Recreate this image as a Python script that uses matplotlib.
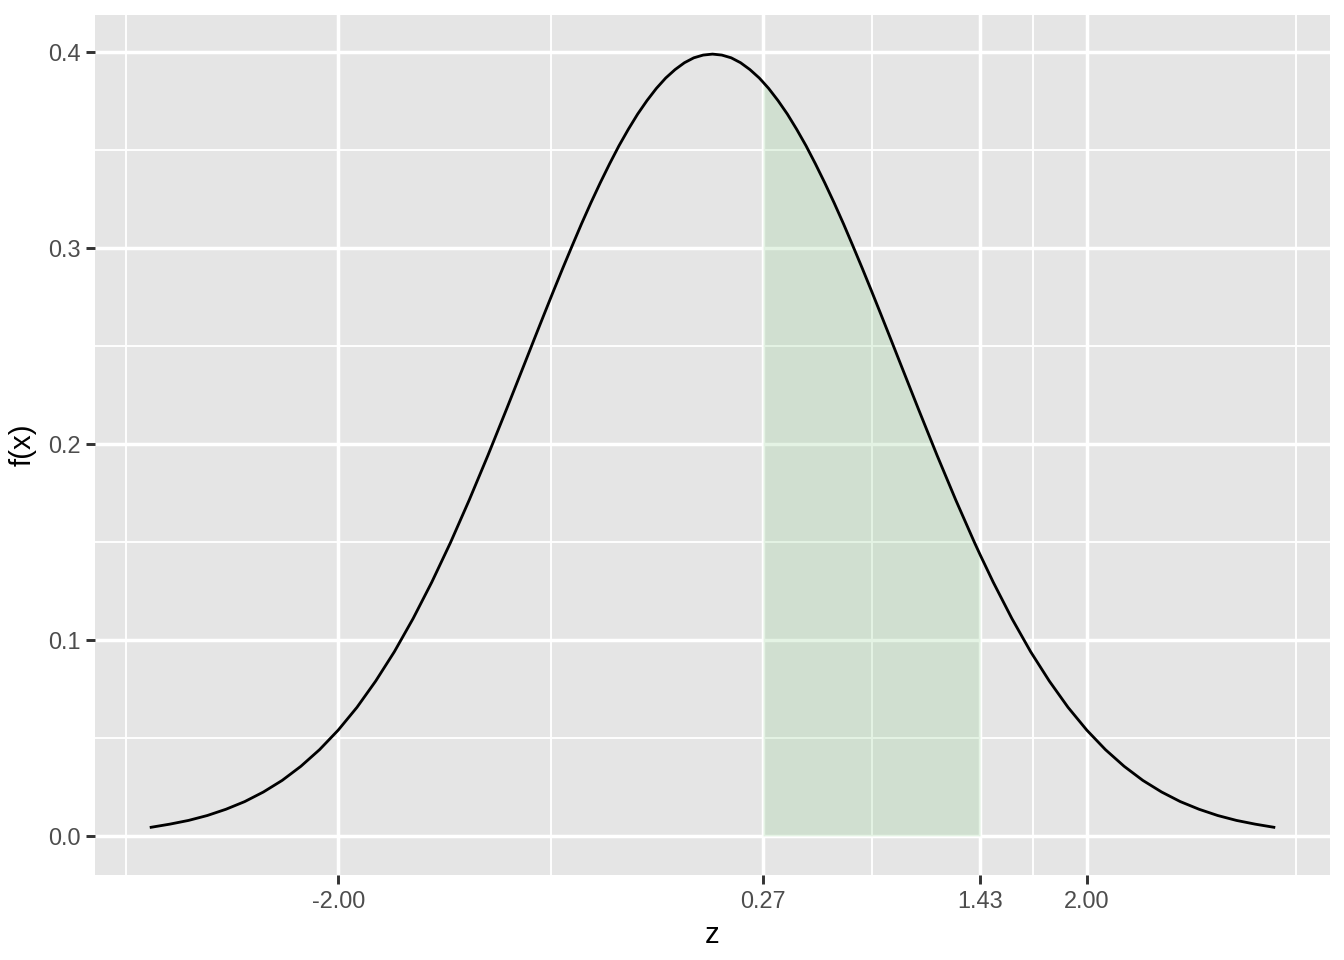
import matplotlib
matplotlib.use("Agg")
import matplotlib.pyplot as plt
import numpy as np

plt.rcParams['font.family'] = ['Liberation Sans', 'DejaVu Sans']

# density curve
z = [-3.0, -2.9, -2.8, -2.7, -2.6, -2.5, -2.4, -2.3, -2.2, -2.1,
     -2.0, -1.9, -1.8, -1.7, -1.6, -1.5, -1.4, -1.3, -1.2, -1.1,
     -1.0, -0.95, -0.9, -0.85, -0.8, -0.75, -0.7, -0.65, -0.6, -0.55,
     -0.5, -0.45, -0.4, -0.35, -0.3, -0.25, -0.2, -0.15, -0.1, -0.05,
     0.0,
     0.05, 0.1, 0.15, 0.2, 0.25, 0.27, 0.3, 0.35, 0.4, 0.45,
     0.5, 0.55, 0.6, 0.65, 0.7, 0.75, 0.8, 0.85, 0.9, 0.95, 1.0,
     1.1, 1.2, 1.3, 1.4, 1.43, 1.5, 1.6, 1.7, 1.8, 1.9,
     2.0, 2.1, 2.2, 2.3, 2.4, 2.5, 2.6, 2.7, 2.8, 2.9, 3.0]
fx = [0.0044, 0.0060, 0.0079, 0.0104, 0.0136, 0.0175, 0.0224, 0.0283, 0.0355, 0.0440,
      0.0540, 0.0656, 0.0790, 0.0940, 0.1109, 0.1295, 0.1497, 0.1714, 0.1942, 0.2179,
      0.2420, 0.2541, 0.2661, 0.2780, 0.2897, 0.3011, 0.3123, 0.3230, 0.3332, 0.3429,
      0.3521, 0.3605, 0.3683, 0.3752, 0.3814, 0.3867, 0.3910, 0.3945, 0.3970, 0.3984,
      0.3989,
      0.3984, 0.3970, 0.3945, 0.3910, 0.3867, 0.3846, 0.3814, 0.3752, 0.3683, 0.3605,
      0.3521, 0.3429, 0.3332, 0.3230, 0.3123, 0.3011, 0.2897, 0.2780, 0.2661, 0.2541, 0.2420,
      0.2179, 0.1942, 0.1714, 0.1497, 0.1435, 0.1295, 0.1109, 0.0940, 0.0790, 0.0656,
      0.0540, 0.0440, 0.0355, 0.0283, 0.0224, 0.0175, 0.0136, 0.0104, 0.0079, 0.0060, 0.0044]
shade_lo, shade_hi = 0.27, 1.43

x_breaks = [-2.0, 0.27, 1.43, 2.0]
x_labels = ["-2.00", "0.27", "1.43", "2.00"]
x_minor = [-3.135, -0.865, 0.85, 1.715, 3.12]
y_breaks = [0.0, 0.1, 0.2, 0.3, 0.4]
y_labels = ["0.0", "0.1", "0.2", "0.3", "0.4"]
y_minor = [0.05, 0.15, 0.25, 0.35]

z = np.array(z)
fx = np.array(fx)

fig = plt.figure(figsize=(7, 5), dpi=192)
ax = fig.add_axes([95 / 1344, 85 / 960, 1235 / 1344, 860 / 960])
ax.set_facecolor("#e5e5e5")
for s in ax.spines.values():
    s.set_visible(False)

for v in x_minor:
    ax.axvline(v, color="white", lw=0.7, zorder=1)
for v in y_minor:
    ax.axhline(v, color="white", lw=0.7, zorder=1)
for v in x_breaks:
    ax.axvline(v, color="white", lw=1.3, zorder=1)
for v in y_breaks:
    ax.axhline(v, color="white", lw=1.3, zorder=1)

mask = (z >= shade_lo) & (z <= shade_hi)
ax.fill_between(z[mask], 0, fx[mask], color="#7cc77c", alpha=0.2, lw=0, zorder=2)
ax.plot(z, fx, color="black", lw=1.05, zorder=3)

ax.set_xlim(-3.3, 3.3)
ax.set_ylim(-0.01995, 0.41885)
ax.set_xticks(x_breaks)
ax.set_xticklabels(x_labels)
ax.set_yticks(y_breaks)
ax.set_yticklabels(y_labels)
ax.tick_params(axis="both", length=3.5, width=1.1, color="#333333",
               labelcolor="#4d4d4d", labelsize=8.8, pad=2)
ax.set_xlabel("z", fontsize=11, color="black", labelpad=3)
ax.set_ylabel("f(x)", fontsize=11, color="black", labelpad=4)

fig.savefig("out.png", dpi=192)
